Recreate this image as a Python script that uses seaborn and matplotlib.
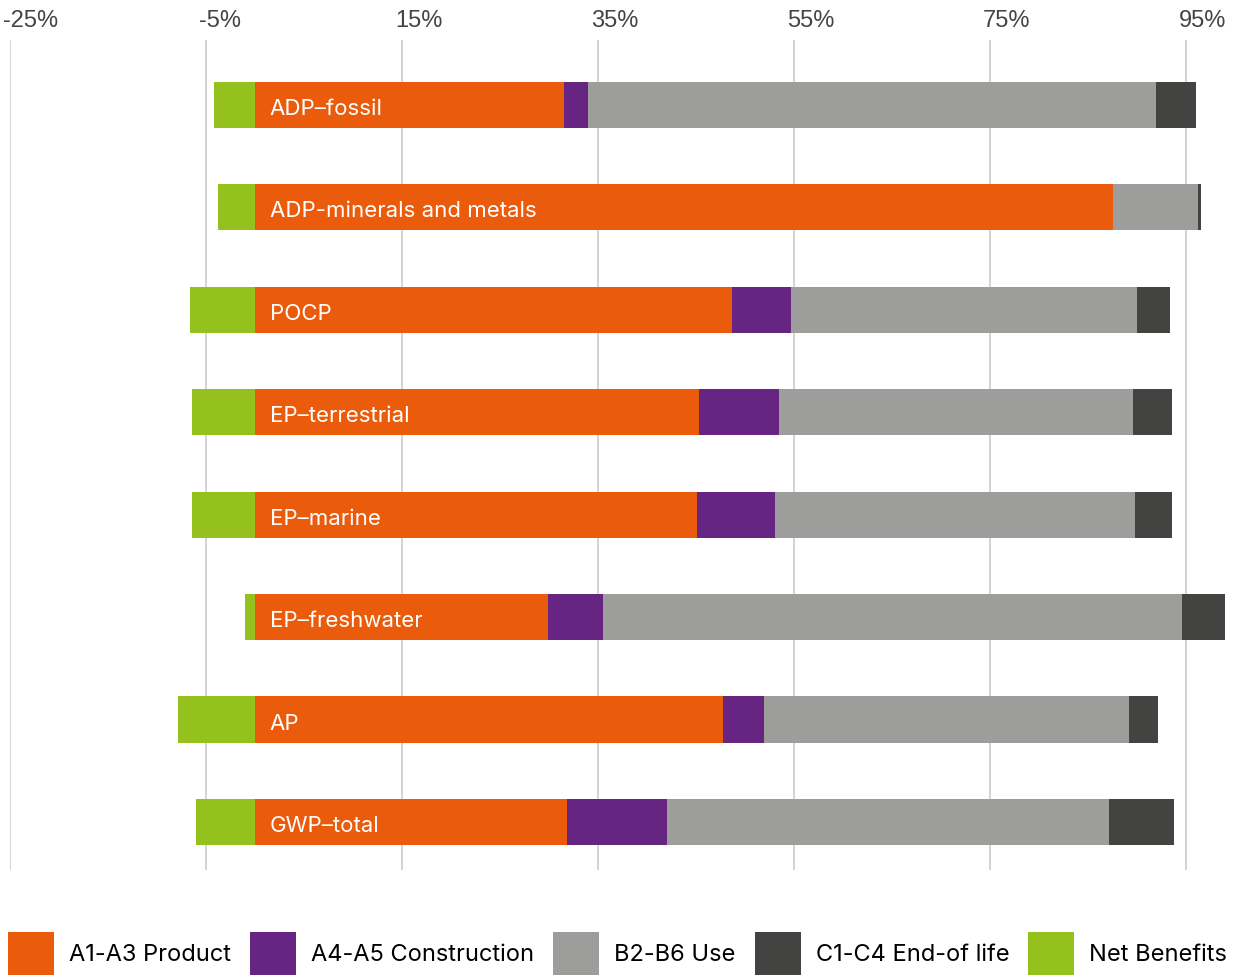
import numpy as np
import pandas as pd
import matplotlib
matplotlib.use("Agg")
import matplotlib.pyplot as plt
import matplotlib.transforms as mtransforms
import seaborn as sns
from matplotlib.patches import Patch

# indicator categories, top to bottom
categories = ["ADP\u2013fossil", "ADP-minerals and metals", "POCP", "EP\u2013terrestrial",
              "EP\u2013marine", "EP\u2013freshwater", "AP", "GWP\u2013total"]

# shares in %
a1_a3 = [31.5, 87.6, 48.7, 45.3, 45.1, 29.9, 47.8, 31.8]
a4_a5 = [2.5, 0.0, 6.0, 8.2, 8.0, 5.6, 4.1, 10.2]
b2_b6 = [57.9, 8.6, 35.3, 36.1, 36.7, 59.1, 37.3, 45.1]
c1_c4 = [4.1, 0.3, 3.4, 4.0, 3.8, 4.4, 2.9, 6.7]
net_benefits = [-4.2, -3.8, -6.6, -6.4, -6.4, -1.0, -7.9, -6.0]

stages = ["A1-A3 Product", "A4-A5 Construction", "B2-B6 Use", "C1-C4 End-of life", "Net Benefits"]
colors = ["#EA5B0C", "#662483", "#9D9D9C", "#434342", "#95C11F"]
tick_values = list(range(-25, 96, 20))

df = pd.DataFrame({"cat": categories, "a1": a1_a3, "a4": a4_a5, "b2": b2_b6,
                   "c1": c1_c4, "net": net_benefits})
df["end_a1"] = df["a1"]
df["end_a4"] = df["end_a1"] + df["a4"]
df["end_b2"] = df["end_a4"] + df["b2"]
df["end_c1"] = df["end_b2"] + df["c1"]

sns.set_theme(style="white")
plt.rcParams["font.family"] = ["Inter", "DejaVu Sans"]

fig = plt.figure(figsize=(12.46, 9.75), dpi=100)
ax = fig.add_axes([10 / 1246, 1 - 870 / 975, 1225 / 1246, 830 / 975])

# draw cumulative layers from the outermost inwards
for col, c in [("end_c1", colors[3]), ("end_b2", colors[2]), ("end_a4", colors[1]),
               ("end_a1", colors[0]), ("net", colors[4])]:
    sns.barplot(data=df, x=col, y="cat", orient="h", color=c, width=0.45,
                saturation=1, ax=ax, linewidth=0, zorder=3)

for i, name in enumerate(categories):
    ax.text(1.5, i + 0.02, name, color="white", va="center_baseline", ha="left", fontsize=16, zorder=5)

ax.set_xlim(-25, 100)
ax.set_ylim(7.47, -0.635)
ax.set_xticks(tick_values)
ax.set_xticklabels([f"{v}%" for v in tick_values], family=["Liberation Sans", "DejaVu Sans"],
                   fontsize=17, color="#444444")
ax.xaxis.tick_top()
ax.tick_params(axis="x", length=0, pad=6)
shift = mtransforms.ScaledTranslation(-7 / 100, 0, fig.dpi_scale_trans)
for lab in ax.get_xticklabels():
    lab.set_horizontalalignment("left")
    lab.set_transform(lab.get_transform() + shift)
ax.set_yticks([])
ax.set_xlabel("")
ax.set_ylabel("")
ax.grid(axis="x", color="#d0d0d0", linewidth=1.3, zorder=0)
ax.grid(axis="y", visible=False)
ax.set_axisbelow(True)
for s in ax.spines.values():
    s.set_visible(False)

handles = [Patch(facecolor=c, edgecolor="none", label=l) for c, l in zip(colors, stages)]
leg = fig.legend(handles=handles, loc="lower left", bbox_to_anchor=(8 / 1246, 0), ncol=5,
                 frameon=False, fontsize=17, handlelength=1.95, handleheight=2.43,
                 handletextpad=0.64, columnspacing=0.8, borderpad=0, borderaxespad=0)
for t in leg.get_texts():
    t.set_color("black")

fig.savefig("out.png", dpi=100)
